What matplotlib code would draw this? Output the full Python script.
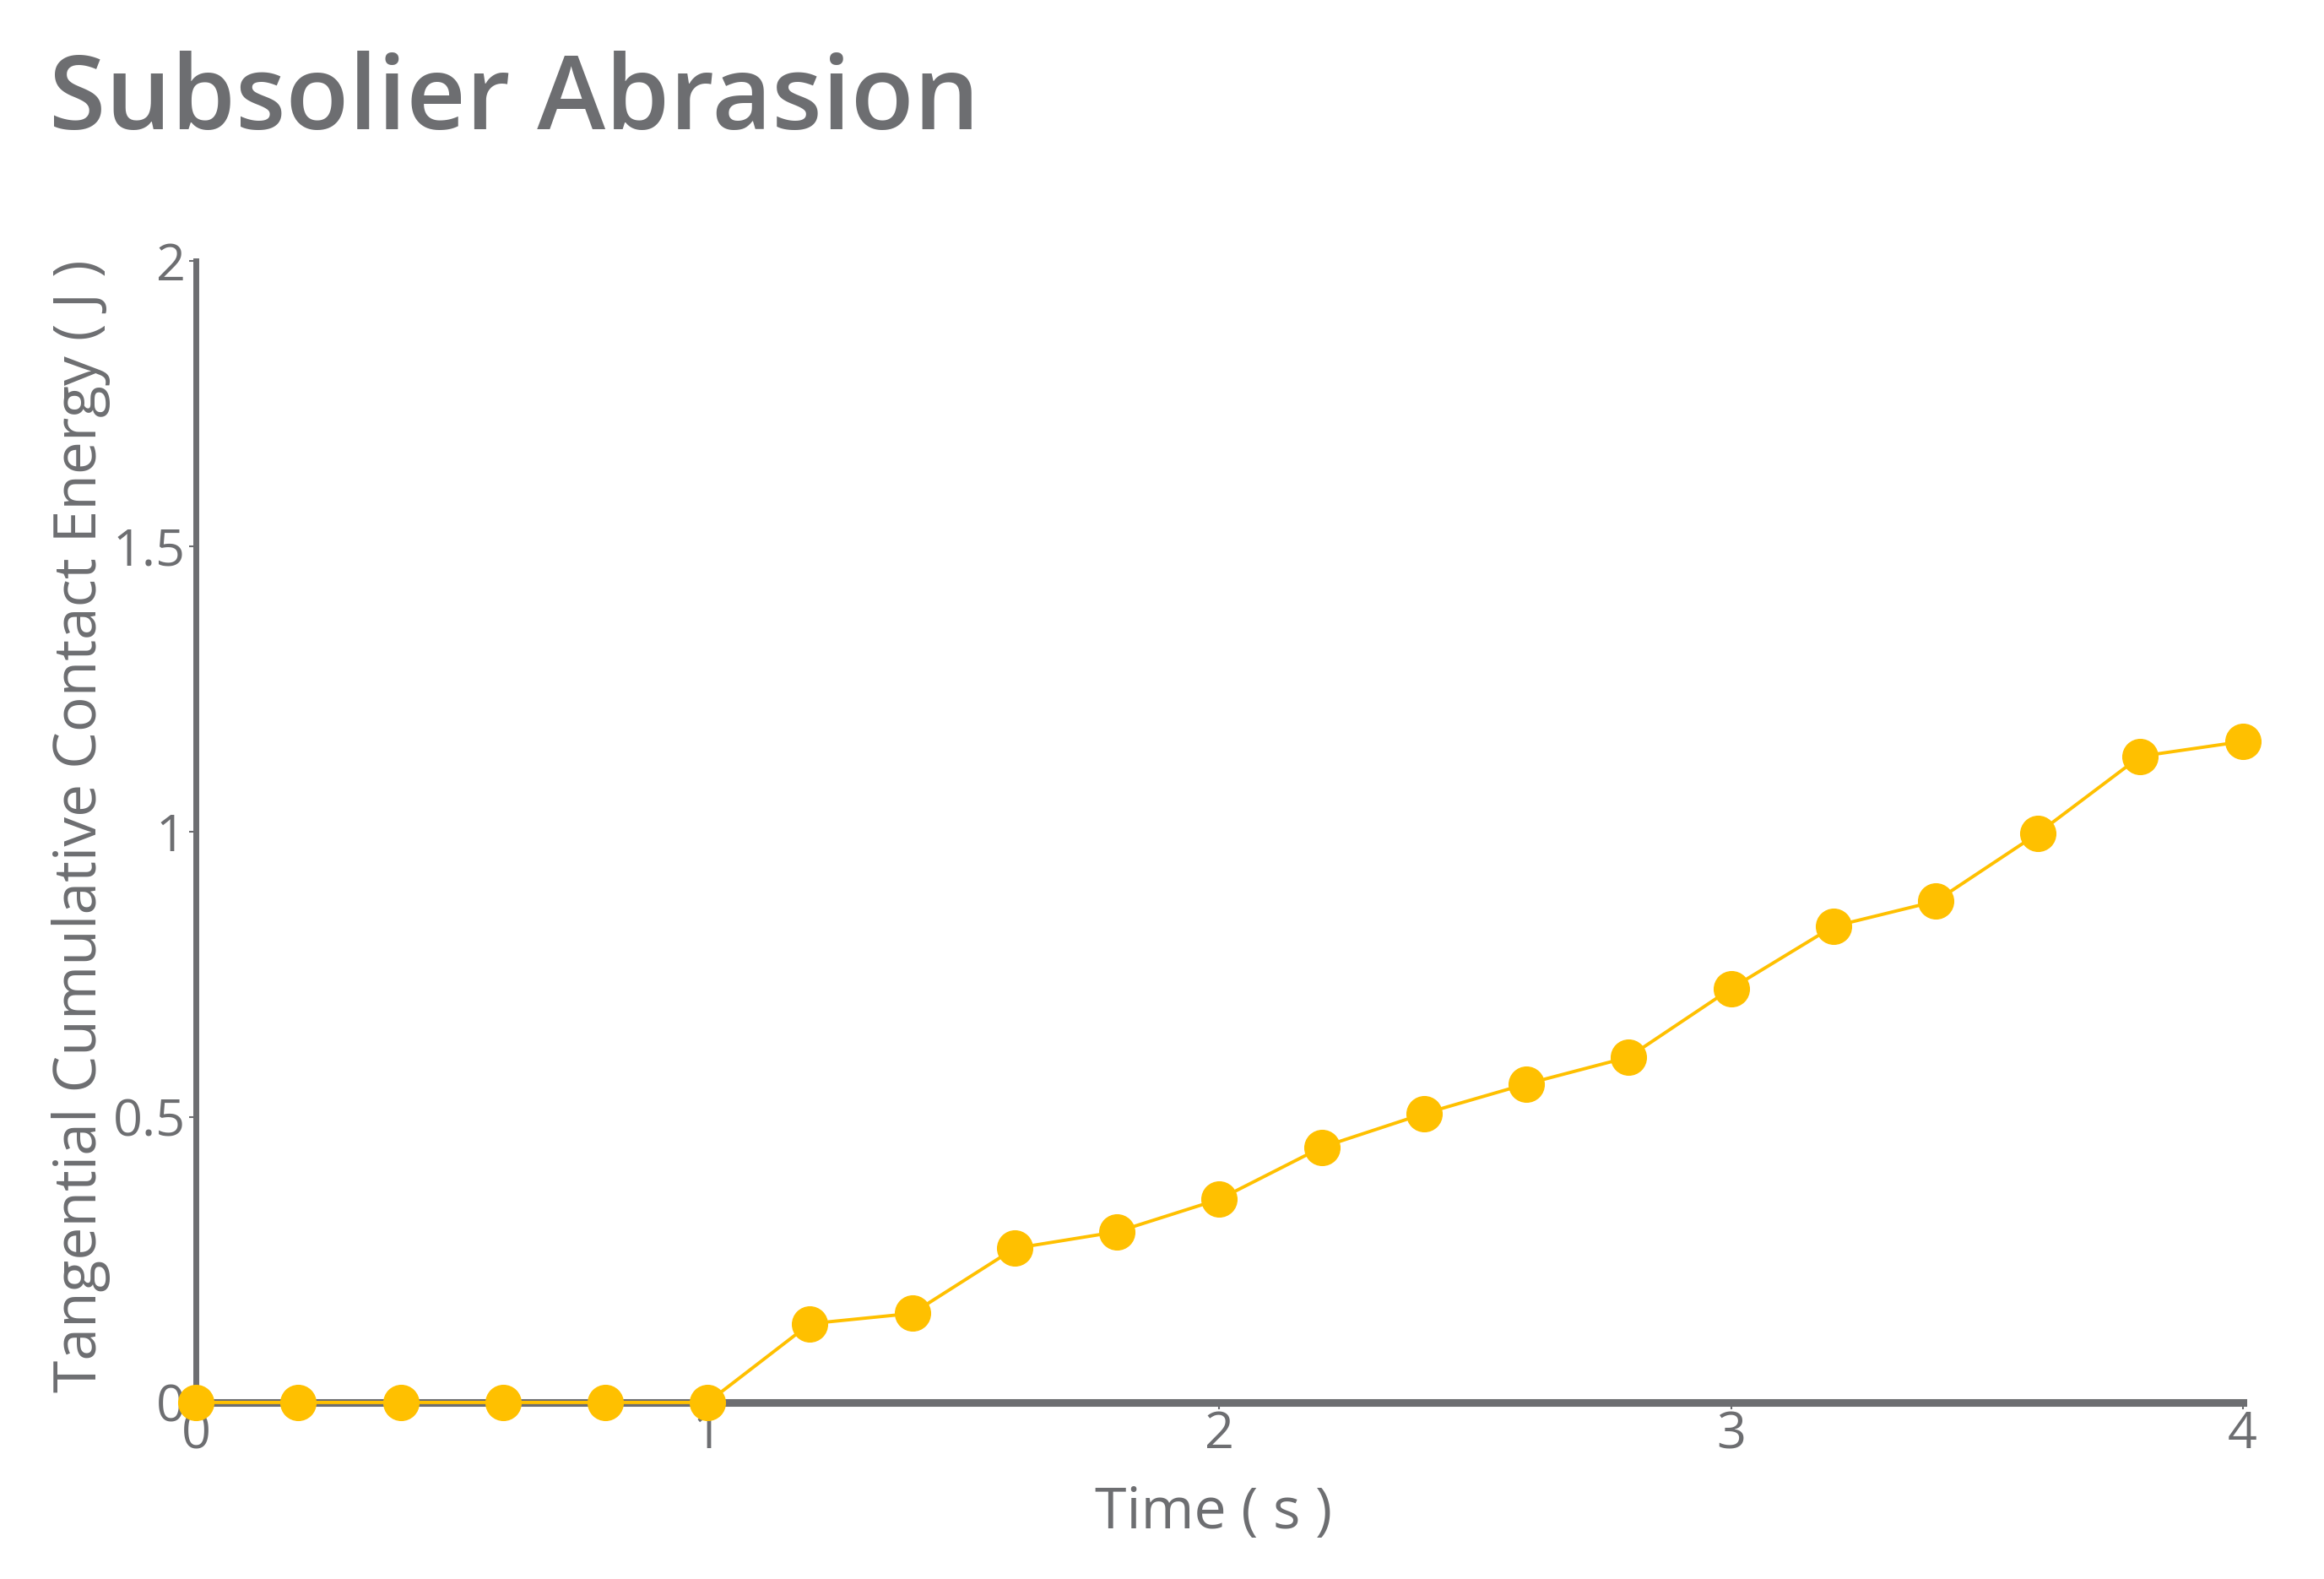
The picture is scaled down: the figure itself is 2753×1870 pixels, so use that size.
import matplotlib
matplotlib.use("Agg")
import matplotlib.pyplot as plt

# 时间 (s) 与切向累积接触能量 (J)
time_s = [0.0, 0.2, 0.4, 0.6, 0.8, 1.0, 1.2, 1.4, 1.6, 1.8, 2.0,
          2.2, 2.4, 2.6, 2.8, 3.0, 3.2, 3.4, 3.6, 3.8, 4.0]
energy_j = [0.0, 0.0, 0.0, 0.0, 0.0, 0.0, 0.138, 0.156, 0.270, 0.299, 0.356,
            0.447, 0.506, 0.558, 0.605, 0.725, 0.834, 0.878, 0.997, 1.132, 1.158]
x_ticks = [0, 1, 2, 3, 4]
y_ticks = [0, 0.5, 1, 1.5, 2]
y_tick_labels = ["0", "0.5", "1", "1.5", "2"]

GRAY = "#6d6e71"
GOLD = "#ffc000"

plt.rcParams["font.family"] = ["Open Sans", "DejaVu Sans"]

fig = plt.figure(figsize=(27.53, 18.70), dpi=100)
ax = fig.add_axes([0.0843, 0.1118, 0.8807, 0.7230])

ax.plot(time_s, energy_j, color=GOLD, linewidth=2.8, marker="o",
        markersize=30, clip_on=False, zorder=5)

ax.set_xlim(0, 4)
ax.set_ylim(0, 2)
ax.set_xticks(x_ticks)
ax.set_xticklabels([str(t) for t in x_ticks])
ax.set_yticks(y_ticks)
ax.set_yticklabels(y_tick_labels)

for side in ["top", "right"]:
    ax.spines[side].set_visible(False)
ax.spines["left"].set_color(GRAY)
ax.spines["left"].set_linewidth(5)
ax.spines["bottom"].set_color(GRAY)
ax.spines["bottom"].set_linewidth(6.5)

ax.tick_params(axis="both", colors=GRAY, labelcolor=GRAY, labelsize=44,
               length=6, width=1.5, direction="out")
ax.tick_params(axis="y", pad=3)
ax.tick_params(axis="x", pad=0)

ax.set_xlabel("Time ( s )", fontsize=49, color=GRAY)
ax.xaxis.label.set_va("center")
ax.xaxis.set_label_coords(0.497, -0.097)
ax.set_ylabel("Tangential Cumulative Contact Energy ( J )", fontsize=50,
              color=GRAY)
ax.yaxis.label.set_va("center")
ax.yaxis.set_label_coords(-0.056, 0.505)

fig.text(0.021, 0.968, "Subsolier Abrasion", fontsize=88, fontweight="semibold",
         color=GRAY, ha="left", va="top")

fig.savefig("out.png", dpi=100, facecolor="white")
